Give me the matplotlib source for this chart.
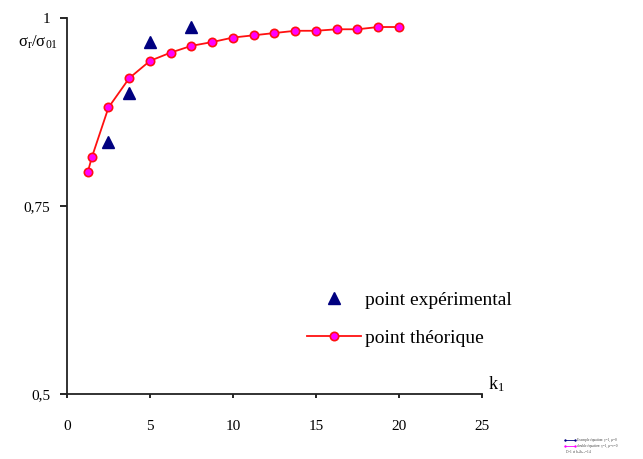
import matplotlib.pyplot as plt
from matplotlib.lines import Line2D

plt.rcParams['font.family'] = ['Liberation Serif', 'DejaVu Serif']
plt.rcParams['mathtext.fontset'] = 'custom'
plt.rcParams['mathtext.rm'] = 'Liberation Serif'

# theoretical points (k1 steps of 1.25)
k_theo = [1.25, 1.5, 2.5, 3.75, 5, 6.25, 7.5, 8.75, 10, 11.25, 12.5,
          13.75, 15, 16.25, 17.5, 18.75, 20]
s_theo = [0.795, 0.815, 0.881, 0.920, 0.943, 0.954, 0.963, 0.968, 0.974,
          0.977, 0.980, 0.983, 0.983, 0.985, 0.985, 0.988, 0.988]

# experimental points
k_exp = [2.5, 3.75, 5, 7.5]
s_exp = [0.835, 0.900, 0.968, 0.988]

xticks = [0, 5, 10, 15, 20, 25]
yticks = [0.5, 0.75, 1]
ytick_labels = ['0,5', '0,75', '1']

fig = plt.figure(figsize=(6.43, 4.59), dpi=100)
ax = fig.add_axes([0.1042, 0.1416, 0.6454, 0.8192])

ax.plot(k_exp, s_exp, linestyle='none', marker='^', markersize=8,
        color='#000080', label='point expérimental')
ax.plot(k_theo, s_theo, color='#ff1010', lw=1.3, marker='o', markersize=6,
        markerfacecolor='#ff00ff', markeredgecolor='#ff1010',
        markeredgewidth=1.2, label='point théorique')

ax.set_xlim(0, 25)
ax.set_ylim(0.5, 1)
ax.set_xticks(xticks)
ax.set_yticks(yticks)
ax.set_yticklabels(ytick_labels)
for s in ['top', 'right']:
    ax.spines[s].set_visible(False)
for s in ['left', 'bottom']:
    ax.spines[s].set_color('#222222')
    ax.spines[s].set_linewidth(1.3)
ax.tick_params(axis='y', direction='out', length=5, width=1.2, pad=7,
               labelsize=11)
ax.tick_params(axis='x', direction='out', length=3, width=1.2, pad=16,
               labelsize=11)

ax.text(1.015, 0.0, r'$\mathregular{k_1}$', transform=ax.transAxes,
        fontsize=13, ha='left', va='bottom')
fig.text(0.028, 0.908, r'$\mathregular{\sigma_r/\sigma_{01}}$', fontsize=12,
         ha='left', va='center')

ax.legend(loc='upper left', bbox_to_anchor=(0.535, 0.32), frameon=False,
          fontsize=14, handlelength=2.8, handletextpad=0.2,
          labelspacing=1.05)

# tiny secondary legend in bottom right corner
fig.add_artist(Line2D([0.879, 0.895], [0.041, 0.041], color='#000080',
                      lw=0.6, marker='+', markersize=2,
                      transform=fig.transFigure))
fig.add_artist(Line2D([0.879, 0.895], [0.028, 0.028], color='#ff00ff',
                      lw=0.6, marker='+', markersize=2,
                      transform=fig.transFigure))
fig.text(0.898, 0.041, 'Exemple équation: γ=1, μ=0', fontsize=2.5,
         va='center', color='#444444')
fig.text(0.898, 0.028, 'double équation: γ=1, μ=ν=0', fontsize=2.5,
         va='center', color='#444444')
fig.text(0.879, 0.015, 'D=1 et h$_d$/h$_{ef}$=1.4', fontsize=2.5,
         va='center', color='#444444')

fig.savefig('out.png', dpi=100)
